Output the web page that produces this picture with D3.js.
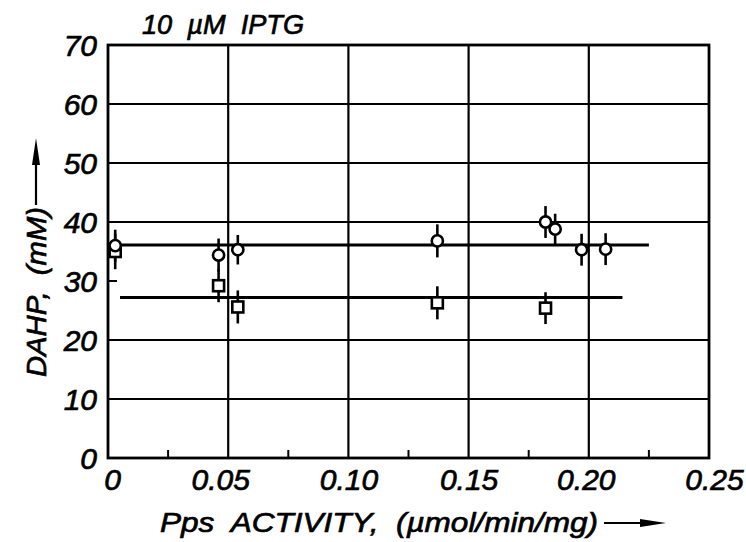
<!DOCTYPE html>
<html><head><meta charset="utf-8">
<script src="https://cdn.jsdelivr.net/npm/d3@7"></script>
<style>body{margin:0;background:#fff}svg text{font-family:"Liberation Sans",Arial,sans-serif;font-style:italic;font-weight:normal;fill:#000;stroke:#000;stroke-width:0.7px}</style>
</head><body><svg id="c" width="746" height="542"></svg>
<script>
const circleX = [0.003, 0.046, 0.054, 0.137, 0.182, 0.186, 0.197, 0.207];
const circleY = [36.0, 34.4, 35.3, 36.8, 40.0, 38.8, 35.3, 35.4];
const circleErr = [2.7, 2.8, 2.5, 2.8, 2.7, 2.6, 2.7, 2.7];
const squareX = [0.003, 0.046, 0.054, 0.137, 0.182];
const squareY = [35.0, 29.2, 25.6, 26.3, 25.4];
const squareErr = [3.0, 2.8, 2.8, 2.8, 2.7];
const fitUpper = {x: [0.003, 0.225], y: [36.1, 36.1]};
const fitLower = {x: [0.005, 0.214], y: [27.2, 27.2]};
const xTicks = [0, 0.05, 0.10, 0.15, 0.20, 0.25];
const xTickLabels = ["0", "0.05", "0.10", "0.15", "0.20", "0.25"];
const xMinor = [0.025, 0.075, 0.125, 0.175, 0.225];
const yTicks = [0, 10, 20, 30, 40, 50, 60, 70];
const yGrid = [10, 20, 40, 50, 60];
const yMinor = [30];
const xGrid = [0.05, 0.10, 0.15, 0.20];

const svg = d3.select("#c");
const L = 108, R = 709, T = 45, B = 458;
const x = d3.scaleLinear().domain([0, 0.25]).range([L, R]);
const y = d3.scaleLinear().domain([0, 70]).range([B, T]);

const g = svg.append("g");
g.selectAll(".vg").data(xGrid).join("line")
  .attr("x1", d => x(d)).attr("x2", d => x(d)).attr("y1", T).attr("y2", B)
  .attr("stroke", "#000").attr("stroke-width", 2.2);
g.selectAll(".hg").data(yGrid).join("line")
  .attr("y1", d => y(d)).attr("y2", d => y(d)).attr("x1", L).attr("x2", R)
  .attr("stroke", "#000").attr("stroke-width", 2.2);
g.selectAll(".xm").data(xMinor).join("line")
  .attr("x1", d => x(d)).attr("x2", d => x(d)).attr("y1", B).attr("y2", B - 8)
  .attr("stroke", "#000").attr("stroke-width", 2);
g.selectAll(".ym").data(yMinor).join("line")
  .attr("y1", d => y(d)).attr("y2", d => y(d)).attr("x1", L).attr("x2", L + 9)
  .attr("stroke", "#000").attr("stroke-width", 2);
g.append("rect").attr("x", L).attr("y", T).attr("width", R - L).attr("height", B - T)
  .attr("fill", "none").attr("stroke", "#000").attr("stroke-width", 2.8);

const xAxis = d3.axisBottom(x).tickValues(xTicks).tickFormat((d, i) => xTickLabels[i]).tickSize(0).tickPadding(11);
const gx = svg.append("g").attr("transform", `translate(0,${B})`).call(xAxis);
gx.select(".domain").remove();
gx.selectAll("text").attr("font-size", 30).attr("font-family", null).attr("fill", null)
  .attr("dx", (d, i) => [4, -8, 0, 0, -3, 5][i]);
const yAxis = d3.axisLeft(y).tickValues(yTicks).tickSize(0).tickPadding(11);
const gy = svg.append("g").attr("transform", `translate(${L},0)`).call(yAxis);
gy.select(".domain").remove();
gy.selectAll("text").attr("font-size", 30).attr("font-family", null).attr("fill", null).attr("dy", "0.35em");

[fitUpper, fitLower].forEach(f => {
  svg.append("line").attr("x1", x(f.x[0])).attr("x2", x(f.x[1]))
    .attr("y1", y(f.y[0])).attr("y2", y(f.y[1]))
    .attr("stroke", "#000").attr("stroke-width", 3);
});

const circ = circleX.map((d, i) => ({x: d, y: circleY[i], e: circleErr[i]}));
const sq = squareX.map((d, i) => ({x: d, y: squareY[i], e: squareErr[i]}));
svg.selectAll(".eb").data(circ.concat(sq)).join("line")
  .attr("x1", d => x(d.x)).attr("x2", d => x(d.x))
  .attr("y1", d => y(d.y + d.e)).attr("y2", d => y(d.y - d.e))
  .attr("stroke", "#000").attr("stroke-width", 2.6);
const s = 11;
svg.selectAll(".sq").data(sq).join("rect")
  .attr("x", d => x(d.x) - s / 2).attr("y", d => y(d.y) - s / 2)
  .attr("width", s).attr("height", s)
  .attr("fill", "#fff").attr("stroke", "#000").attr("stroke-width", 2.6);
svg.selectAll(".ci").data(circ).join("circle")
  .attr("cx", d => x(d.x)).attr("cy", d => y(d.y)).attr("r", 5.6)
  .attr("fill", "#fff").attr("stroke", "#000").attr("stroke-width", 2.6);

svg.append("text").attr("x", 142).attr("y", 34).attr("font-size", 28)
  .attr("xml:space", "preserve").attr("textLength", 162).attr("lengthAdjust", "spacingAndGlyphs")
  .text("10  µM  IPTG");

svg.append("text").attr("x", 160).attr("y", 532).attr("font-size", 28)
  .attr("xml:space", "preserve").attr("textLength", 438).attr("lengthAdjust", "spacingAndGlyphs")
  .text("Pps  ACTIVITY,  (µmol/min/mg)");
svg.append("line").attr("x1", 604).attr("x2", 650).attr("y1", 523).attr("y2", 523)
  .attr("stroke", "#000").attr("stroke-width", 2.2);
svg.append("path").attr("d", "M640,519 L666,523 L640,527 Z").attr("fill", "#000");

const yt = svg.append("g").attr("transform", "translate(46,377) rotate(-90)");
yt.append("text").attr("x", 0).attr("y", 0).attr("font-size", 28)
  .attr("xml:space", "preserve").attr("textLength", 170).attr("lengthAdjust", "spacingAndGlyphs")
  .text("DAHP,  (mM)");
svg.append("line").attr("x1", 36).attr("x2", 36).attr("y1", 205).attr("y2", 155)
  .attr("stroke", "#000").attr("stroke-width", 2.2);
svg.append("path").attr("d", "M32,165 L36,138 L40,165 Z").attr("fill", "#000");
</script></body></html>
